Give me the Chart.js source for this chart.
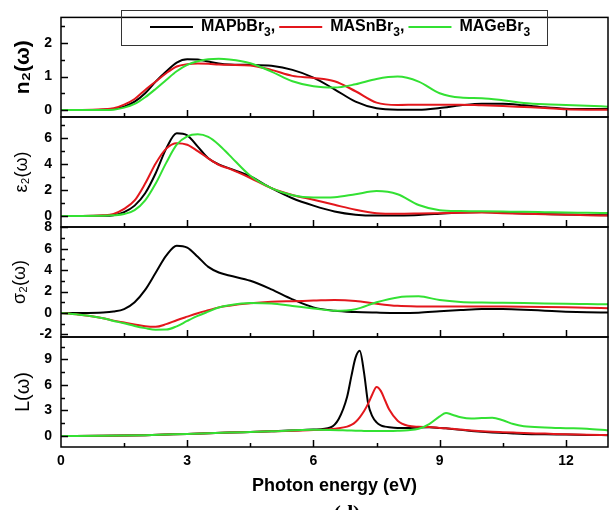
<!DOCTYPE html>
<html>
<head>
<meta charset="utf-8">
<script src="https://cdn.jsdelivr.net/npm/chart.js@4.4.0/dist/chart.umd.min.js"></script>
<style>
  html, body { margin: 0; padding: 0; background: #fff; }
  #wrap { position: relative; width: 610px; height: 510px; }
  #wrap canvas { position: absolute; left: 0; top: 0; }
</style>
</head>
<body>
<div id="wrap">
  <canvas id="nChart" width="610" height="510"></canvas>
  <canvas id="epsChart" width="610" height="510"></canvas>
  <canvas id="sigmaChart" width="610" height="510"></canvas>
  <canvas id="lossChart" width="610" height="510"></canvas>
</div>
<script>
// photon energy grid (eV)
const energy = [0, 0.5, 1.0, 1.25, 1.5, 1.75, 2.0, 2.25, 2.5, 2.75, 3.0, 3.25, 3.5, 3.75, 4.0, 4.5,
  5.0, 5.5, 6.0, 6.5, 7.0, 7.5, 8.0, 8.5, 9.0, 9.5, 10.0, 10.5, 11.0, 11.5, 12.0, 12.5, 13.0];
const lossEnergy = [0, 1, 2, 3, 4, 5, 6, 6.4, 6.6, 6.8, 6.9, 7.0, 7.1, 7.2, 7.3, 7.4, 7.5, 7.6, 7.7, 7.8,
  8.0, 8.25, 8.5, 8.75, 9.0, 9.15, 9.3, 9.5, 9.75, 10.0, 10.25, 10.5, 10.75, 11.0, 11.5, 12.0, 12.5, 13.0];

// n2(w)
const n2Pb = [0, 0, 0.01, 0.03, 0.1, 0.25, 0.5, 0.85, 1.15, 1.42, 1.52, 1.51, 1.45, 1.39, 1.36, 1.35,
  1.32, 1.2, 0.97, 0.62, 0.25, 0.05, 0.01, 0.01, 0.06, 0.14, 0.19, 0.19, 0.14, 0.08, 0.04, 0.03, 0.03];
const n2Sn = [0, 0, 0.02, 0.05, 0.16, 0.33, 0.6, 0.85, 1.1, 1.3, 1.37, 1.39, 1.38, 1.36, 1.35, 1.33,
  1.2, 1.02, 0.96, 0.86, 0.56, 0.22, 0.15, 0.16, 0.16, 0.16, 0.14, 0.12, 0.09, 0.06, 0.02, 0.01, 0.01];
const n2Ge = [0, 0, 0, 0.01, 0.07, 0.18, 0.38, 0.63, 0.9, 1.16, 1.35, 1.46, 1.52, 1.53, 1.51, 1.4,
  1.15, 0.86, 0.71, 0.67, 0.77, 0.93, 1.0, 0.85, 0.5, 0.37, 0.35, 0.29, 0.21, 0.17, 0.15, 0.13, 0.1];

// eps2(w)
const eps2Pb = [0, 0, 0.01, 0.06, 0.3, 0.8, 1.75, 3.3, 5.2, 6.38, 6.22, 5.35, 4.45, 3.98, 3.67, 3.05,
  2.15, 1.37, 0.8, 0.35, 0.1, 0.03, 0.04, 0.08, 0.17, 0.27, 0.3, 0.25, 0.19, 0.15, 0.11, 0.08, 0.05];
const eps2Sn = [0, 0, 0.05, 0.16, 0.55, 1.2, 2.5, 4.05, 5.2, 5.62, 5.5, 5.0, 4.45, 3.95, 3.65, 2.93,
  2.15, 1.62, 1.25, 0.86, 0.48, 0.22, 0.17, 0.19, 0.22, 0.25, 0.26, 0.22, 0.17, 0.14, 0.1, 0.06, 0.03];
const eps2Ge = [0, 0, 0.01, 0.05, 0.15, 0.45, 1.2, 2.5, 4.1, 5.5, 6.15, 6.3, 6.1, 5.5, 4.7, 3.1,
  2.15, 1.6, 1.42, 1.45, 1.68, 1.92, 1.68, 0.85, 0.45, 0.38, 0.36, 0.34, 0.32, 0.29, 0.26, 0.25, 0.23];

// sigma2(w)
const sigma2Pb = [0, 0, 0.04, 0.13, 0.36, 1.0, 2.15, 3.75, 5.35, 6.28, 6.1, 5.25, 4.3, 3.78, 3.5, 3.0,
  2.2, 1.27, 0.52, 0.2, 0.08, 0.03, 0, 0.02, 0.15, 0.27, 0.37, 0.36, 0.3, 0.21, 0.12, 0.06, 0.03];
const sigma2Sn = [0, -0.2, -0.5, -0.72, -0.9, -1.08, -1.25, -1.3, -1.05, -0.68, -0.35, -0.03, 0.25, 0.52, 0.68, 0.9,
  1.04, 1.1, 1.15, 1.21, 1.12, 0.86, 0.66, 0.6, 0.59, 0.59, 0.59, 0.59, 0.58, 0.56, 0.53, 0.48, 0.44];
const sigma2Ge = [0, -0.2, -0.5, -0.75, -0.97, -1.22, -1.42, -1.57, -1.56, -1.25, -0.75, -0.28, 0.12, 0.5, 0.72, 0.93,
  0.88, 0.65, 0.42, 0.2, 0.35, 1.0, 1.45, 1.55, 1.2, 1.02, 0.97, 0.95, 0.92, 0.88, 0.85, 0.83, 0.81];

// L(w)
const lossPb = [0, 0.02, 0.1, 0.25, 0.4, 0.55, 0.75, 1.0, 2.0, 4.6, 7.0, 9.2, 10.0, 7.5, 3.8, 2.3, 1.6, 1.25, 1.1, 1.02,
  0.95, 0.95, 1.0, 1.02, 0.95, 0.9, 0.82, 0.72, 0.6, 0.5, 0.42, 0.36, 0.3, 0.25, 0.2, 0.17, 0.13, 0.1];
const lossSn = [0, 0.02, 0.1, 0.25, 0.4, 0.55, 0.7, 0.8, 0.9, 1.1, 1.3, 1.65, 2.2, 2.9, 3.8, 4.9, 5.75, 5.3, 4.2, 3.1,
  1.8, 1.2, 1.08, 1.05, 0.95, 0.9, 0.85, 0.75, 0.65, 0.57, 0.5, 0.45, 0.4, 0.35, 0.28, 0.2, 0.15, 0.12];
const lossGe = [0, 0.02, 0.1, 0.25, 0.4, 0.55, 0.72, 0.7, 0.68, 0.65, 0.64, 0.63, 0.62, 0.6, 0.6, 0.6, 0.6, 0.6, 0.6, 0.6,
  0.62, 0.68, 0.85, 1.4, 2.3, 2.7, 2.5, 2.2, 2.05, 2.1, 2.15, 1.85, 1.4, 1.15, 1.0, 0.92, 0.85, 0.65];

const xTicks = [0, 3, 6, 9, 12];
const n2Ticks = [0, 1, 2];
const eps2Ticks = [0, 2, 4, 6];
const sigma2Ticks = [-2, 0, 2, 4, 6, 8];
const lossTicks = [0, 3, 6, 9];

const seriesNames = ["MAPbBr₃,", "MASnBr₃,", "MAGeBr₃"];
const seriesColors = ["#000000", "#e3171c", "#33e133"];

Chart.defaults.font.family = '"Liberation Sans", Arial, sans-serif';
Chart.defaults.font.weight = "bold";
Chart.defaults.color = "#000";

// frame + inward major/minor ticks on every panel
const frameTicks = {
  id: "frameTicks",
  afterDatasetsDraw(chart, args, o) {
    const { ctx, chartArea: a, scales: { x, y } } = chart;
    ctx.save();
    ctx.strokeStyle = "#000";
    ctx.lineWidth = 1.5;
    ctx.beginPath();
    for (let k = Math.ceil(y.min / o.yMinor); k * o.yMinor <= y.max + 1e-9; k++) {
      const v = k * o.yMinor;
      const major = o.yMajor.some(t => Math.abs(t - v) < 1e-6);
      const py = Math.round(y.getPixelForValue(v)) + 0.5;
      ctx.moveTo(a.left, py);
      ctx.lineTo(a.left + (major ? 7 : 4), py);
    }
    for (let k = 1; k * 1.5 <= x.max; k++) {
      const v = k * 1.5;
      const major = xTicks.includes(v);
      const px = Math.round(x.getPixelForValue(v)) + 0.5;
      ctx.moveTo(px, a.bottom);
      ctx.lineTo(px, a.bottom - (major ? 7 : 4));
    }
    ctx.stroke();
    ctx.strokeRect(a.left, a.top, a.width, a.height);
    ctx.restore();
  }
};

// boxed legend in the top panel, and the (d) mark under the bottom panel
const extras = {
  id: "extras",
  afterDraw(chart, args, o) {
    const ctx = chart.ctx;
    ctx.save();
    if (o.legend) {
      ctx.strokeStyle = "#333";
      ctx.lineWidth = 1;
      ctx.strokeRect(121.5, 10.5, 426, 35);
      let x = 150;
      const yMid = 27;
      chart.data.datasets.forEach(ds => {
        ctx.strokeStyle = ds.borderColor;
        ctx.lineWidth = 2;
        ctx.beginPath();
        ctx.moveTo(x, yMid);
        ctx.lineTo(x + 43, yMid);
        ctx.stroke();
        x += 51;
        ctx.fillStyle = "#000";
        ctx.textBaseline = "middle";
        for (const ch of ds.label) {
          const code = ch.charCodeAt(0);
          if (code >= 0x2080 && code <= 0x2089) {
            ctx.font = 'bold 12px "Liberation Sans", Arial, sans-serif';
            const s = String(code - 0x2080);
            ctx.fillText(s, x, yMid + 6);
            x += ctx.measureText(s).width;
          } else {
            ctx.font = 'bold 16px "Liberation Sans", Arial, sans-serif';
            ctx.fillText(ch, x, yMid);
            x += ctx.measureText(ch).width;
          }
        }
        x += 4;
      });
    }
    if (o.mark) {
      ctx.fillStyle = "#000";
      ctx.font = 'bold 22px "Liberation Serif", "Times New Roman", serif';
      ctx.textAlign = "center";
      ctx.textBaseline = "top";
      ctx.fillText("(d)", 347, 503);
    }
    ctx.restore();
  }
};

function pts(xs, ys) {
  return xs.map((x, i) => ({ x, y: ys[i] }));
}

function makePanel(id, p) {
  const isBottom = !!p.bottomAxis;
  new Chart(document.getElementById(id), {
    type: "line",
    data: {
      datasets: p.series.map((ys, i) => ({
        label: seriesNames[i],
        data: pts(p.xs, ys),
        borderColor: seriesColors[i],
        borderWidth: 2,
        pointRadius: 0,
        cubicInterpolationMode: "monotone",
        fill: false,
        order: 3 - i
      }))
    },
    options: {
      responsive: false,
      animation: false,
      layout: { padding: { left: 0, right: 2, top: p.top, bottom: isBottom ? 0 : 510 - p.bottom } },
      plugins: {
        legend: { display: false },
        tooltip: { enabled: false },
        frameTicks: { yMajor: p.ticks, yMinor: p.minor },
        extras: { legend: !!p.legend, mark: isBottom }
      },
      scales: {
        x: {
          type: "linear",
          min: 0,
          max: 13,
          display: isBottom,
          afterFit: s => { s.height = isBottom ? 510 - p.bottom : 0; },
          afterBuildTicks: s => { s.ticks = xTicks.map(v => ({ value: v })); },
          grid: { display: false, drawTicks: false },
          border: { display: false },
          ticks: { font: { size: 14, weight: "bold" }, padding: 6, maxRotation: 0 },
          title: {
            display: true,
            text: "Photon energy (eV)",
            font: { size: 18, weight: "bold" },
            padding: { top: 0, bottom: 13 }
          }
        },
        y: {
          min: p.min,
          max: p.max,
          afterFit: s => { s.width = 61; },
          afterBuildTicks: s => { s.ticks = p.ticks.map(v => ({ value: v })); },
          grid: { display: false, drawTicks: false },
          border: { display: false },
          ticks: { font: { size: 14, weight: "bold" }, padding: 9 },
          title: {
            display: true,
            text: p.title,
            font: p.titleFont,
            padding: { top: p.titlePad, bottom: 0 }
          }
        }
      }
    },
    plugins: [frameTicks, extras]
  });
}

makePanel("nChart", {
  xs: energy, series: [n2Pb, n2Sn, n2Ge], top: 8, bottom: 117, min: -0.21, max: 2.77,
  ticks: n2Ticks, minor: 0.5, title: "n₂(ω)", titleFont: { size: 21, weight: "bold" }, titlePad: 11, legend: true
});
makePanel("epsChart", {
  xs: energy, series: [eps2Pb, eps2Sn, eps2Ge], top: 117, bottom: 227, min: -0.85, max: 7.64,
  ticks: eps2Ticks, minor: 1, title: "ε₂(ω)", titleFont: { size: 18, weight: "normal" }, titlePad: 11
});
makePanel("sigmaChart", {
  xs: energy, series: [sigma2Pb, sigma2Sn, sigma2Ge], top: 227, bottom: 337, min: -2.25, max: 8.03,
  ticks: sigma2Ticks, minor: 1, title: "σ₂(ω)", titleFont: { size: 18, weight: "normal" }, titlePad: 9
});
makePanel("lossChart", {
  xs: lossEnergy, series: [lossPb, lossSn, lossGe], top: 337, bottom: 447, min: -1.29, max: 11.62,
  ticks: lossTicks, minor: 1.5, title: "L(ω)", titleFont: { size: 20, weight: "normal" }, titlePad: 11,
  bottomAxis: true
});
</script>
</body>
</html>
